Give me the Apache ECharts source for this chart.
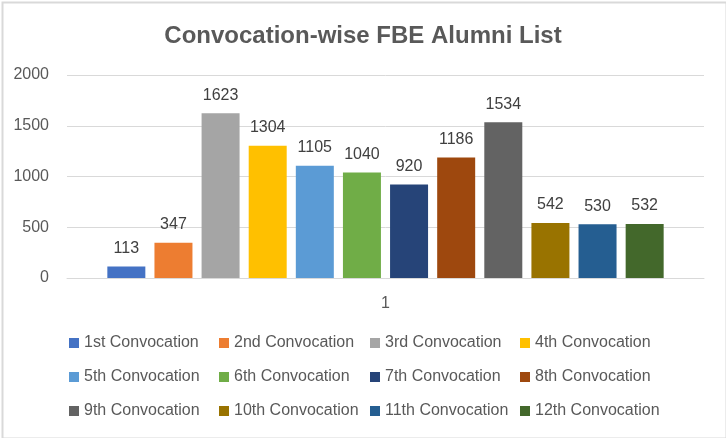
<!DOCTYPE html>
<html>
<head>
<meta charset="utf-8">
<script src="https://cdn.jsdelivr.net/npm/echarts@6/dist/echarts.min.js"></script>
<style>
html,body{margin:0;padding:0;background:#fff;}
#chart{width:726px;height:438px;}
</style>
</head>
<body>
<div id="chart"></div>
<script>
const titleText = 'Convocation-wise FBE Alumni List';
const categories = ['1'];
const seriesNames = ['1st Convocation','2nd Convocation','3rd Convocation','4th Convocation',
  '5th Convocation','6th Convocation','7th Convocation','8th Convocation',
  '9th Convocation','10th Convocation','11th Convocation','12th Convocation'];
const seriesValues = [113, 347, 1623, 1304, 1105, 1040, 920, 1186, 1534, 542, 530, 532];
const colors = ['#4472C4','#ED7D31','#A5A5A5','#FFC000','#5B9BD5','#70AD47',
  '#264478','#9E480E','#636363','#997300','#255E91','#43682B'];
const yTicks = [0, 500, 1000, 1500, 2000];

const font = "'Liberation Sans', Arial, sans-serif";
const txt = '#595959';

const series = seriesNames.map((name, i) => ({
  name: name,
  type: 'bar',
  data: [seriesValues[i]],
  itemStyle: { color: colors[i] },
  barWidth: 38,
  barGap: '24%',
  label: {
    show: true, position: 'top', distance: 10,
    color: '#404040', fontSize: 16, fontFamily: font
  }
}));

const legendCols = [69, 219, 370, 520];
const legends = legendCols.map((x, c) => ({
  orient: 'vertical',
  left: x, top: 335,
  itemWidth: 10, itemHeight: 10, itemGap: 18,
  icon: 'rect',
  padding: 0,
  textStyle: { color: txt, fontSize: 16, fontFamily: font },
  data: [seriesNames[c], seriesNames[c + 4], seriesNames[c + 8]]
}));

const chart = echarts.init(document.getElementById('chart'), null, { renderer: 'canvas' });
chart.setOption({
  animation: false,
  backgroundColor: '#fff',
  color: colors,
  title: {
    text: titleText, left: 'center', top: 19,
    textStyle: { color: txt, fontSize: 24, fontWeight: 'bold', fontFamily: font }
  },
  legend: legends,
  grid: { left: 67, right: 22, top: 75, bottom: 160, containLabel: false },
  xAxis: {
    type: 'category', data: categories,
    axisLine: { lineStyle: { color: '#D9D9D9', width: 1 } },
    axisTick: { show: false },
    axisLabel: { color: txt, fontSize: 16, fontFamily: font, margin: 18 }
  },
  yAxis: {
    type: 'value', min: yTicks[0], max: yTicks[yTicks.length - 1], interval: 500,
    axisLine: { show: false }, axisTick: { show: false },
    splitLine: { lineStyle: { color: '#D9D9D9', width: 1 } },
    axisLabel: { color: txt, fontSize: 16, fontFamily: font, margin: 18,
      formatter: (v) => String(v) }
  },
  graphic: [{
    type: 'rect', left: 0, top: 0, z: 100,
    shape: { x: 1, y: 1, width: 724, height: 436 },
    style: { fill: 'none', stroke: '#D9D9D9', lineWidth: 2 }
  }],
  series: series
});
</script>
</body>
</html>
